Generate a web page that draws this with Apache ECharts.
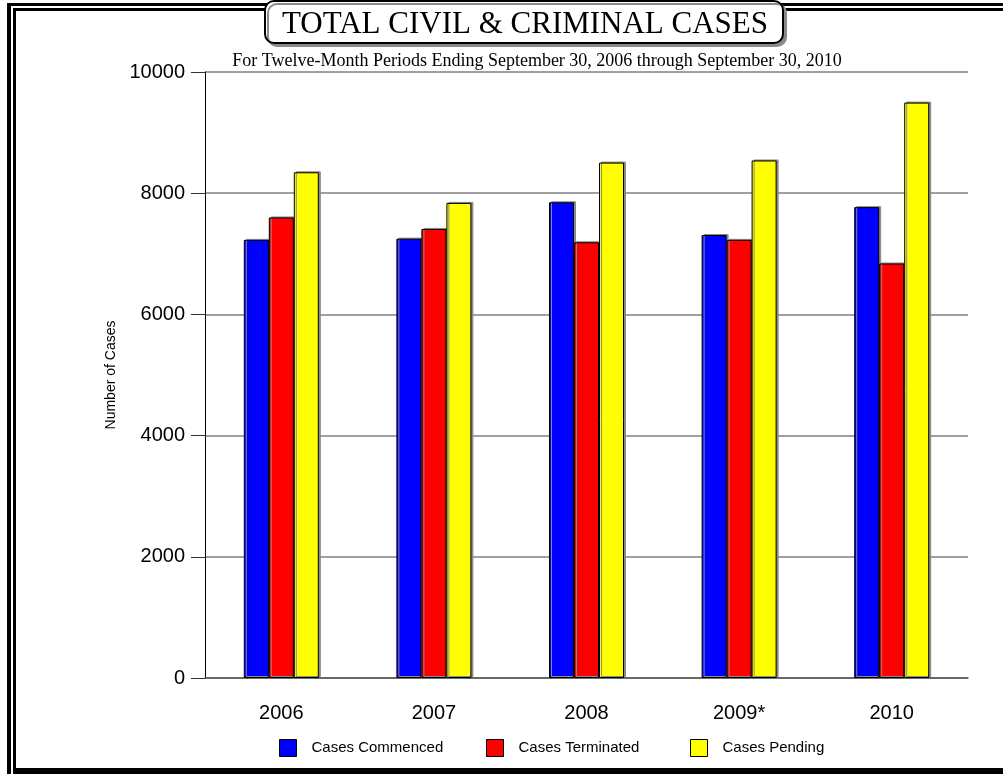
<!DOCTYPE html>
<html>
<head>
<meta charset="utf-8">
<script src="https://cdn.jsdelivr.net/npm/echarts@6/dist/echarts.min.js"></script>
<style>
  html, body { margin: 0; padding: 0; background: #fff; }
  #chart { width: 1003px; height: 774px; }
</style>
</head>
<body>
<div id="chart"></div>
<script>
// values
var years = ['2006', '2007', '2008', '2009*', '2010']
var commenced = [7230, 7250, 7850, 7310, 7770]
var terminated = [7600, 7410, 7190, 7230, 6840]
var pending = [8345, 7840, 8505, 8540, 9495]
var yTicks = [0, 2000, 4000, 6000, 8000, 10000]
var seriesNames = ['Cases Commenced', 'Cases Terminated', 'Cases Pending']

var chart = echarts.init(document.getElementById('chart'))

function barSeries(name, color, data) {
  return {
    name: name,
    type: 'bar',
    data: data,
    barWidth: 25,
    barGap: '0%',
    itemStyle: {
      color: color,
      borderColor: '#000',
      borderWidth: 1,
      shadowColor: '#8a8a8a',
      shadowBlur: 0,
      shadowOffsetX: 2,
      shadowOffsetY: -1
    }
  }
}

// one legend per item so the spacing matches the original
var legendLeft = [274, 481, 685]
var legends = seriesNames.map(function (n, i) {
  return {
    left: legendLeft[i],
    top: 734,
    itemWidth: 17,
    itemHeight: 17,
    icon: 'rect',
    itemStyle: { borderColor: '#000', borderWidth: 1 },
    textStyle: {
      fontFamily: 'Liberation Sans',
      fontSize: 15,
      color: '#000',
      padding: [0, 0, 0, 10]
    },
    data: [n]
  }
})

chart.setOption({
  animation: false,
  backgroundColor: '#fff',
  grid: {
    left: 205,
    right: 35,
    top: 72,
    bottom: 96
  },
  legend: legends,
  xAxis: {
    type: 'category',
    data: years,
    axisLine: { lineStyle: { color: '#555', width: 1.5 } },
    axisTick: { alignWithLabel: true, length: 12, lineStyle: { color: '#333' } },
    axisLabel: {
      fontFamily: 'Liberation Sans',
      fontSize: 20,
      color: '#000',
      margin: 25
    }
  },
  yAxis: {
    type: 'value',
    min: yTicks[0],
    max: yTicks[yTicks.length - 1],
    interval: 2000,
    name: 'Number of Cases',
    nameLocation: 'middle',
    nameGap: 76,
    nameTextStyle: {
      fontFamily: 'Liberation Sans',
      fontSize: 14,
      color: '#000'
    },
    axisLine: { show: true, lineStyle: { color: '#000', width: 1 } },
    axisTick: { show: true, length: 14, lineStyle: { color: '#333' } },
    axisLabel: {
      fontFamily: 'Liberation Sans',
      fontSize: 20,
      color: '#000',
      margin: 20,
      formatter: function (v) { return String(v) }
    },
    splitLine: { lineStyle: { color: '#808080', width: 1.5 } }
  },
  series: [
    barSeries(seriesNames[0], '#0000ff', commenced),
    barSeries(seriesNames[1], '#ff0000', terminated),
    barSeries(seriesNames[2], '#ffff00', pending)
  ],
  graphic: [
    // double frame round the page
    { type: 'rect', shape: { x: 7, y: 3, width: 4, height: 771 }, style: { fill: '#000' } },
    { type: 'rect', shape: { x: 7, y: 3, width: 996, height: 3 }, style: { fill: '#000' } },
    { type: 'rect', shape: { x: 13, y: 8, width: 3, height: 764 }, style: { fill: '#000' } },
    { type: 'rect', shape: { x: 13, y: 8, width: 990, height: 3 }, style: { fill: '#000' } },
    { type: 'rect', shape: { x: 13, y: 768, width: 990, height: 6 }, style: { fill: '#000' } },
    // title box
    {
      type: 'rect',
      shape: { x: 265, y: 1, width: 518, height: 42, r: 9 },
      style: {
        fill: '#fff',
        stroke: '#000',
        lineWidth: 2,
        shadowColor: '#8a8a8a',
        shadowOffsetX: 3,
        shadowOffsetY: 3
      }
    },
    {
      type: 'text',
      x: 525,
      y: 9,
      style: {
        text: 'TOTAL CIVIL & CRIMINAL CASES',
        font: '31px "Liberation Serif"',
        fill: '#000',
        align: 'center'
      }
    },
    {
      type: 'text',
      x: 537,
      y: 52,
      style: {
        text: 'For Twelve-Month Periods Ending September 30, 2006 through September 30, 2010',
        font: '18px "Liberation Serif"',
        fill: '#000',
        align: 'center'
      }
    }
  ]
})
</script>
</body>
</html>
